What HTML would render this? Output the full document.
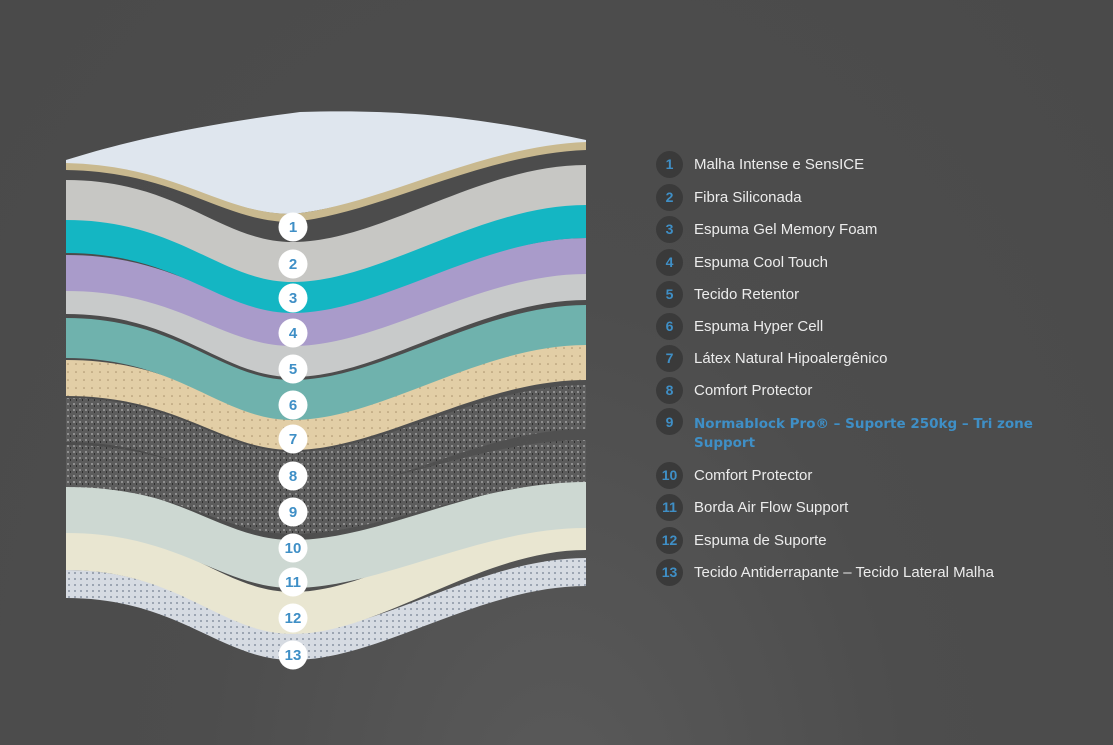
<!DOCTYPE html>
<html><head><meta charset="utf-8"><style>
body{margin:0;width:1113px;height:745px;overflow:hidden;background:radial-gradient(ellipse at 50% 110%,#5a5a5a 0%,#4d4d4d 45%,#4a4a4a 100%);font-family:"Liberation Sans",sans-serif;position:relative}
svg{position:absolute;left:0;top:0}
.row{position:absolute;left:656px;height:28px;display:flex;align-items:center}
.c{width:27px;height:27px;border-radius:50%;background:#3a3a3a;color:#3f8fc6;font-weight:bold;font-size:14px;display:flex;align-items:center;justify-content:center;margin-right:11px;flex:none}
.t{color:#ececec;font-size:15px}
.b{color:#3f8fc6;font-weight:bold;font-family:"DejaVu Sans",sans-serif;font-size:13.5px;line-height:19px}
</style></head><body>
<svg width="1113" height="745" viewBox="0 0 1113 745">
<defs>
<pattern id="dots" width="6" height="6" patternUnits="userSpaceOnUse"><rect width="6" height="6" fill="#d6dbe2"/><circle cx="3" cy="3" r="1" fill="#8a94a3"/></pattern>
<pattern id="tan" width="8" height="8" patternUnits="userSpaceOnUse"><rect width="8" height="8" fill="#e2cea6"/><circle cx="4" cy="4" r="0.8" fill="#a8906a"/></pattern>
<pattern id="gran" width="6" height="6" patternUnits="userSpaceOnUse"><rect width="6" height="6" fill="#5c5c5c"/><rect x="1" y="1" width="2" height="2" fill="#8f8f8f"/><rect x="4" y="3" width="1" height="2" fill="#2e2e2e"/></pattern>
</defs>
<g id="L"></g>
</svg>
<script>
var L=[
[570,632,558,28,'url(#dots)'],
[528,592,508,42,'#e9e6d1'],
[485,540,480,48,'#cdd8d2'],
[445,492,440,42,'url(#gran)'],
[398,452,385,44,'url(#gran)'],
[360,414,344,36,'url(#tan)'],
[318,380,305,40,'#6fb2ad'],
[282,345,268,32,'#c8caca'],
[255,310,238,36,'#a99bca'],
[215,275,200,38,'#14b6c3'],
[180,242,165,40,'#c7c7c4'],
];
var g=document.getElementById('L'),s='';
function p(a,b,c,d){return 'M66,'+a+' C180,'+a+' 220,'+b+' 293,'+b+' C380,'+b+' 480,'+c+' 586,'+c+' L586,'+(c+d)+' C480,'+(c+d)+' 380,'+(b+d)+' 293,'+(b+d)+' C220,'+(b+d)+' 180,'+(a+d)+' 66,'+(a+d)+' Z';}
L.forEach(function(l){s+='<path d="'+p(l[0],l[1],l[2],l[3])+'" fill="'+l[4]+'"/>';});
s+='<path d="M66,160 C130,140 200,125 300,112 C420,108 500,122 586,140 L586,146 C480,150 380,205 293,214 C220,214 180,168 66,166 Z" fill="#dfe6ee"/>';
s+='<path d="M66,163 C180,166 220,214 293,214 C380,205 480,146 586,142 L586,150 C480,154 380,213 293,222 C220,222 180,172 66,170 Z" fill="#c9b98f"/>';
var ys=[227,264,298,333,369,405,439,476,512,548,582,618,655];
ys.forEach(function(y,i){s+='<circle cx="293" cy="'+y+'" r="14.5" fill="#fff"/><text x="293" y="'+(y+5)+'" text-anchor="middle" font-family="Liberation Sans" font-weight="bold" font-size="15" fill="#3f8fc6">'+(i+1)+'</text>';});
g.innerHTML=s;
</script>
<div class="row" style="top:150px"><div class="c">1</div><div class="t">Malha Intense e SensICE</div></div>
<div class="row" style="top:183px"><div class="c">2</div><div class="t">Fibra Siliconada</div></div>
<div class="row" style="top:215px"><div class="c">3</div><div class="t">Espuma Gel Memory Foam</div></div>
<div class="row" style="top:248px"><div class="c">4</div><div class="t">Espuma Cool Touch</div></div>
<div class="row" style="top:280px"><div class="c">5</div><div class="t">Tecido Retentor</div></div>
<div class="row" style="top:312px"><div class="c">6</div><div class="t">Espuma Hyper Cell</div></div>
<div class="row" style="top:344px"><div class="c">7</div><div class="t">Látex Natural Hipoalergênico</div></div>
<div class="row" style="top:376px"><div class="c">8</div><div class="t">Comfort Protector</div></div>
<div class="row" style="top:408px;align-items:flex-start"><div class="c">9</div><div class="b" style="width:390px;margin-top:7px">Normablock Pro® – Suporte 250kg – Tri zone Support</div></div>
<div class="row" style="top:461px"><div class="c">10</div><div class="t">Comfort Protector</div></div>
<div class="row" style="top:493px"><div class="c">11</div><div class="t">Borda Air Flow Support</div></div>
<div class="row" style="top:526px"><div class="c">12</div><div class="t">Espuma de Suporte</div></div>
<div class="row" style="top:558px"><div class="c">13</div><div class="t">Tecido Antiderrapante – Tecido Lateral Malha</div></div>
</body></html>
